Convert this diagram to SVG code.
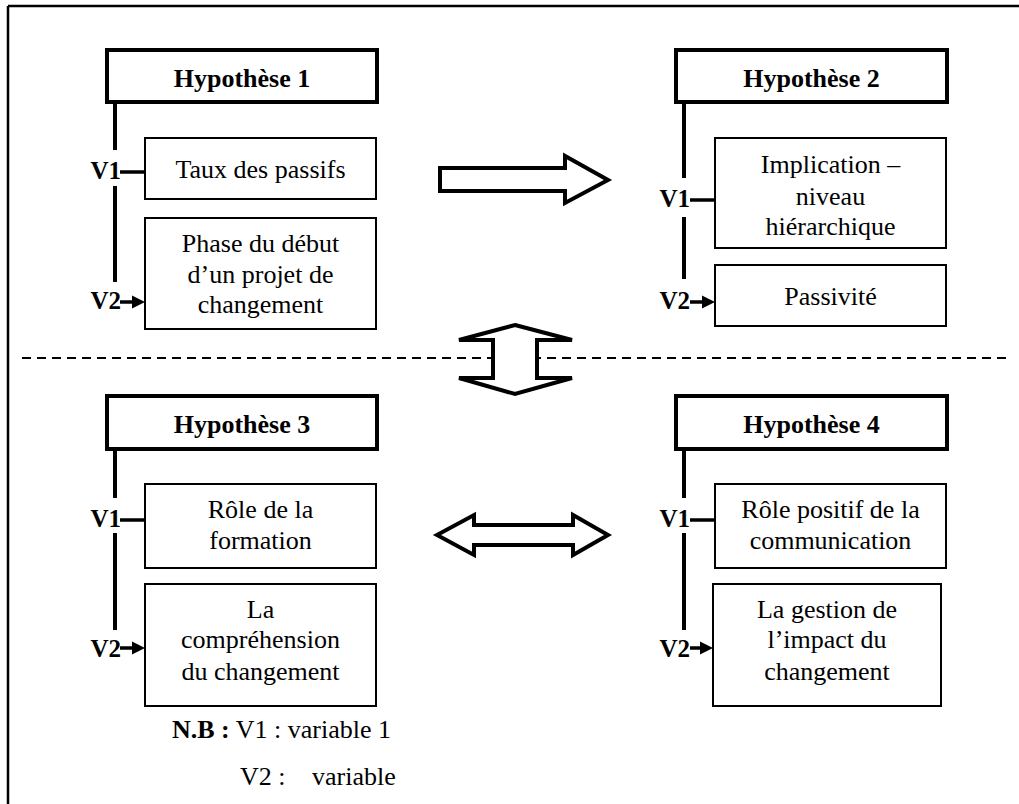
<svg xmlns="http://www.w3.org/2000/svg" width="1019" height="804" viewBox="0 0 1019 804">
  <defs>
    <style>
      .title { fill: #fff; stroke: #000; stroke-width: 4; }
      .box { fill: #fff; stroke: #000; stroke-width: 2; }
      .spine { stroke: #000; stroke-width: 4; fill: none; }
      .tick { stroke: #000; stroke-width: 3.5; fill: none; }
      .tip { fill: #000; stroke: none; }
      .block { fill: #fff; stroke: #000; stroke-width: 4; stroke-linejoin: miter; }
      .t { font-family: "Liberation Serif", "Times New Roman", serif; font-size: 26px; fill: #000; text-anchor: middle; }
      .tb { font-family: "Liberation Serif", "Times New Roman", serif; font-size: 26px; font-weight: bold; fill: #000; text-anchor: middle; }
      .lab { font-family: "Liberation Serif", "Times New Roman", serif; font-size: 25px; font-weight: bold; fill: #000; text-anchor: end; }
      .note { font-family: "Liberation Serif", "Times New Roman", serif; font-size: 26px; fill: #000; }
    </style>
  </defs>

  <rect width="1019" height="804" fill="#fff"/>

  <!-- frame: top and left rules -->
  <line x1="8" y1="6" x2="1019" y2="6" stroke="#000" stroke-width="2.5"/>
  <line x1="8" y1="6" x2="8" y2="804" stroke="#000" stroke-width="2.5"/>

  <!-- dashed separator -->
  <line x1="22" y1="358" x2="1012" y2="358" stroke="#000" stroke-width="2" stroke-dasharray="9 6"/>

  <!-- Hypothesis 1 -->
  <g id="h1">
    <rect class="title" x="107" y="50" width="270" height="52"/>
    <text class="tb" x="242" y="87">Hypothèse 1</text>
    <rect class="box" x="145" y="138" width="231" height="61"/>
    <text class="t" x="260.5" y="178">Taux des passifs</text>
    <rect class="box" x="145" y="218" width="231" height="111"/>
    <text class="t" x="260.5" y="252">Phase du début</text>
    <text class="t" x="260.5" y="283">d’un projet de</text>
    <text class="t" x="260.5" y="313">changement</text>
    <text class="lab" x="121" y="179">V1</text>
    <text class="lab" x="121" y="309">V2</text>
  </g>

  <!-- Hypothesis 2 -->
  <g id="h2">
    <rect class="title" x="676" y="50" width="271" height="52"/>
    <text class="tb" x="811.5" y="87">Hypothèse 2</text>
    <rect class="box" x="715" y="138" width="231" height="110"/>
    <text class="t" x="830.5" y="173">Implication –</text>
    <text class="t" x="830.5" y="205">niveau</text>
    <text class="t" x="830.5" y="235">hiérarchique</text>
    <rect class="box" x="715" y="265" width="231" height="61"/>
    <text class="t" x="830.5" y="305">Passivité</text>
    <text class="lab" x="690" y="207">V1</text>
    <text class="lab" x="690" y="309">V2</text>
  </g>

  <!-- Hypothesis 3 -->
  <g id="h3">
    <rect class="title" x="107" y="396" width="270" height="53"/>
    <text class="tb" x="242" y="433">Hypothèse 3</text>
    <rect class="box" x="145" y="484" width="231" height="84"/>
    <text class="t" x="260.5" y="518">Rôle de la</text>
    <text class="t" x="260.5" y="549">formation</text>
    <rect class="box" x="145" y="584" width="231" height="122"/>
    <text class="t" x="260.5" y="618">La</text>
    <text class="t" x="260.5" y="648">compréhension</text>
    <text class="t" x="260.5" y="680">du changement</text>
    <text class="lab" x="121" y="527">V1</text>
    <text class="lab" x="121" y="657">V2</text>
  </g>

  <!-- Hypothesis 4 -->
  <g id="h4">
    <rect class="title" x="676" y="396" width="271" height="53"/>
    <text class="tb" x="811.5" y="433">Hypothèse 4</text>
    <rect class="box" x="715" y="484" width="231" height="84"/>
    <text class="t" x="830.5" y="518">Rôle positif de la</text>
    <text class="t" x="830.5" y="549">communication</text>
    <rect class="box" x="713" y="584" width="228" height="122"/>
    <text class="t" x="827" y="618">La gestion de</text>
    <text class="t" x="827" y="648">l’impact du</text>
    <text class="t" x="827" y="680">changement</text>
    <text class="lab" x="690" y="527">V1</text>
    <text class="lab" x="690" y="657">V2</text>
  </g>

  <!-- legend -->
  <g id="legend">
    <text class="note" x="172" y="738"><tspan font-weight="bold">N.B :</tspan> V1 : variable 1</text>
    <text class="note" x="240" y="785">V2 :</text>
    <text class="note" x="312" y="785">variable</text>
  </g>

  <!-- connectors -->
  <g id="connectors">
    <!-- spines from each title box -->
    <path class="spine" d="M115,102 V150 M115,186 V282"/>
    <path class="spine" d="M684,102 V178 M684,217 V279"/>
    <path class="spine" d="M115,449 V498 M115,533 V630"/>
    <path class="spine" d="M684,449 V498 M684,533 V630"/>

    <!-- V1 links -->
    <line class="tick" x1="120" y1="172" x2="145" y2="172"/>
    <line class="tick" x1="690" y1="200" x2="715" y2="200"/>
    <line class="tick" x1="120" y1="520" x2="145" y2="520"/>
    <line class="tick" x1="690" y1="520" x2="715" y2="520"/>

    <!-- V2 arrows -->
    <line class="tick" x1="120" y1="302" x2="134" y2="302"/>
    <polygon class="tip" points="132,295.5 145,302 132,308.5"/>
    <line class="tick" x1="690" y1="302" x2="704" y2="302"/>
    <polygon class="tip" points="702,295.5 715,302 702,308.5"/>
    <line class="tick" x1="120" y1="648" x2="134" y2="648"/>
    <polygon class="tip" points="132,641.5 145,648 132,654.5"/>
    <line class="tick" x1="690" y1="648" x2="702" y2="648"/>
    <polygon class="tip" points="700,641.5 713,648 700,654.5"/>

    <!-- block arrows between hypotheses -->
    <polygon class="block" points="440,168 565,168 565,156 608,180 565,203 565,191 440,191"/>
    <polygon class="block" points="515,325 572,340 537,340 537,378 572,378 515,394 459,378 493,378 493,340 459,340"/>
    <polygon class="block" points="437,535 474,515 474,525 573,525 573,515 608,535 573,555 573,545 474,545 474,555"/>
  </g>
</svg>
